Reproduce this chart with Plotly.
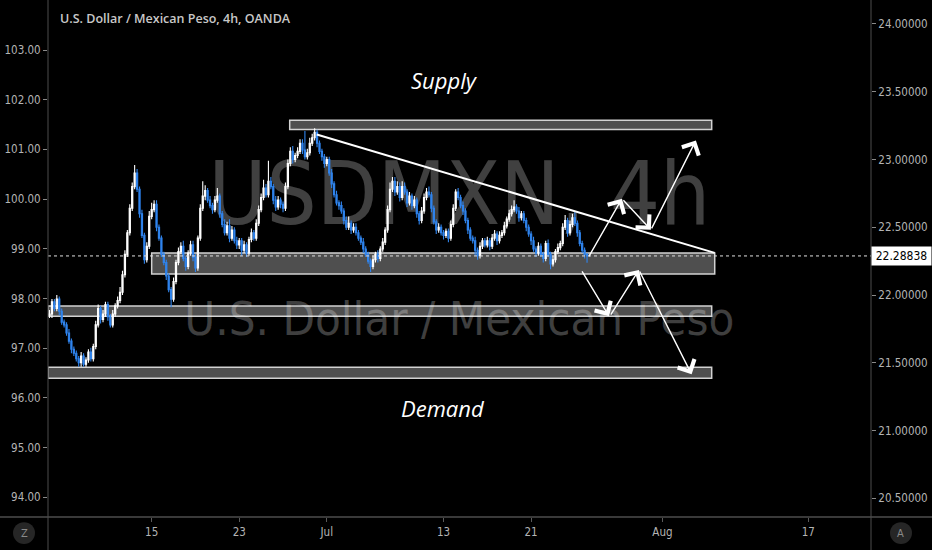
import plotly.graph_objects as go
import pandas as pd

# ---------------- data (USD/MXN, 4h candles) ----------------
trading_days = pd.bdate_range("2020-06-04", "2020-07-24")
session_hours = [0, 4, 8, 12, 16, 20]
first_open = 21.85

close_by_day = [
    [21.86, 21.95, 21.90, 21.97, 21.88, 21.80],
    [21.78, 21.72, 21.66, 21.60, 21.57, 21.53],
    [21.50, 21.55, 21.49, 21.52, 21.58, 21.53],
    [21.62, 21.78, 21.90, 21.82, 21.86, 21.93],
    [21.84, 21.78, 21.86, 21.92, 21.96, 22.02],
    [22.15, 22.30, 22.46, 22.64, 22.80, 22.90],
    [22.78, 22.60, 22.44, 22.26, 22.36, 22.58],
    [22.63, 22.67, 22.50, 22.42, 22.30, 22.24],
    [22.14, 22.04, 21.97, 22.10, 22.24, 22.32],
    [22.36, 22.27, 22.21, 22.31, 22.37, 22.28],
    [22.20, 22.42, 22.64, 22.73, 22.77, 22.70],
    [22.66, 22.63, 22.70, 22.73, 22.60, 22.52],
    [22.46, 22.51, 22.42, 22.48, 22.40, 22.37],
    [22.40, 22.33, 22.37, 22.31, 22.41, 22.46],
    [22.42, 22.53, 22.63, 22.72, 22.79, 22.74],
    [22.84, 22.80, 22.70, 22.65, 22.70, 22.67],
    [22.64, 22.80, 22.97, 23.06, 23.00, 23.03],
    [23.06, 23.12, 23.07, 23.02, 23.05, 23.12],
    [23.16, 23.20, 23.12, 23.06, 23.02, 22.97],
    [23.00, 22.90, 22.82, 22.74, 22.68, 22.66],
    [22.62, 22.55, 22.50, 22.53, 22.48, 22.50],
    [22.46, 22.42, 22.39, 22.34, 22.30, 22.25],
    [22.21, 22.26, 22.30, 22.27, 22.34, 22.39],
    [22.48, 22.63, 22.78, 22.84, 22.76, 22.80],
    [22.72, 22.80, 22.76, 22.68, 22.73, 22.66],
    [22.70, 22.60, 22.55, 22.62, 22.72, 22.76],
    [22.74, 22.64, 22.54, 22.48, 22.50, 22.46],
    [22.44, 22.47, 22.42, 22.52, 22.64, 22.76],
    [22.72, 22.66, 22.62, 22.55, 22.48, 22.42],
    [22.40, 22.33, 22.29, 22.36, 22.40, 22.37],
    [22.40, 22.36, 22.42, 22.45, 22.40, 22.44],
    [22.46, 22.51, 22.56, 22.60, 22.63, 22.65],
    [22.62, 22.57, 22.60, 22.55, 22.50, 22.45],
    [22.40, 22.34, 22.31, 22.36, 22.30, 22.27],
    [22.38, 22.30, 22.23, 22.26, 22.32, 22.35],
    [22.38, 22.50, 22.55, 22.46, 22.52, 22.57],
    [22.53, 22.46, 22.38, 22.33, 22.30, 22.28838],
]

# wick lengths in hundredths of a peso
upper_wick_by_day = [
    [3, 2, 2, 3, 2, 2], [2, 2, 3, 2, 2, 2], [2, 3, 2, 2, 2, 3], [2, 3, 3, 2, 3, 2],
    [2, 2, 3, 2, 3, 4], [3, 3, 2, 3, 3, 6], [3, 2, 3, 2, 3, 4], [5, 3, 3, 2, 2, 2],
    [2, 2, 2, 3, 2, 3], [3, 4, 2, 2, 3, 3], [2, 2, 3, 11, 4, 2], [3, 2, 3, 6, 2, 2],
    [4, 3, 5, 3, 2, 3], [2, 2, 3, 2, 2, 3], [2, 3, 3, 3, 6, 3], [15, 3, 2, 3, 3, 2],
    [2, 3, 3, 3, 4, 2], [3, 3, 3, 14, 3, 4], [3, 3, 2, 2, 2, 2], [2, 2, 3, 2, 3, 2],
    [3, 2, 3, 5, 2, 3], [3, 2, 2, 3, 2, 2], [2, 3, 2, 3, 2, 3], [2, 3, 5, 3, 3, 4],
    [3, 4, 3, 2, 3, 2], [3, 2, 2, 3, 3, 3], [4, 2, 2, 2, 3, 2], [2, 2, 2, 3, 3, 2],
    [3, 2, 3, 2, 2, 2], [2, 3, 2, 3, 2, 2], [3, 2, 3, 3, 2, 3], [2, 3, 2, 3, 3, 5],
    [2, 3, 2, 2, 2, 2], [2, 3, 2, 3, 2, 2], [2, 3, 2, 3, 2, 3], [2, 3, 4, 2, 3, 3],
    [5, 2, 2, 2, 2, 1],
]
lower_wick_by_day = [
    [2, 3, 2, 2, 3, 2], [2, 2, 2, 3, 2, 2], [3, 3, 2, 2, 2, 2], [2, 2, 2, 3, 2, 2],
    [3, 2, 2, 2, 2, 2], [2, 2, 2, 2, 2, 2], [2, 3, 2, 3, 2, 2], [2, 2, 3, 2, 2, 2],
    [3, 2, 6, 2, 2, 2], [2, 2, 3, 2, 2, 3], [3, 2, 2, 2, 3, 2], [2, 3, 2, 2, 3, 2],
    [2, 2, 3, 2, 2, 3], [3, 4, 2, 3, 2, 2], [2, 2, 2, 2, 2, 2], [2, 2, 3, 3, 2, 3],
    [3, 2, 2, 2, 3, 2], [2, 2, 3, 2, 2, 2], [2, 2, 3, 2, 3, 3], [2, 2, 3, 2, 2, 3],
    [2, 3, 2, 2, 3, 2], [2, 2, 2, 3, 2, 2], [4, 2, 2, 3, 2, 2], [2, 2, 2, 2, 3, 2],
    [3, 2, 2, 3, 2, 3], [2, 3, 3, 2, 2, 2], [2, 3, 2, 3, 2, 2], [3, 2, 3, 2, 2, 2],
    [2, 2, 3, 2, 3, 2], [2, 4, 3, 2, 2, 2], [2, 3, 2, 2, 3, 2], [2, 2, 2, 2, 2, 2],
    [2, 3, 2, 2, 3, 2], [3, 2, 3, 2, 2, 3], [2, 2, 4, 2, 2, 2], [2, 2, 2, 3, 2, 2],
    [2, 3, 2, 2, 3, 5],
]

last_price = 22.28838

# zones (price levels) and projected paths
supply_zone = (23.222, 23.289)
range_zone = (22.156, 22.311)
mid_demand_zone = (21.844, 21.919)
demand_zone = (21.385, 21.467)

trend_start = ("2020-06-30 07:30", 23.185)
trend_end = ("2020-08-06 14:00", 22.311)

bull_path = [("2020-07-24 21:40", 22.274), ("2020-07-29 05:30", 22.711),
             ("2020-07-31 05:00", 22.481), ("2020-08-05 07:00", 23.141)]
bear_path = [("2020-07-24 10:20", 22.185), ("2020-07-28 08:10", 21.844),
             ("2020-07-28 09:30", 21.844), ("2020-07-30 09:20", 22.185),
             ("2020-08-05 00:00", 21.415)]

x_tick_vals = ["2020-06-15", "2020-06-23", "2020-07-01", "2020-07-13",
               "2020-07-21", "2020-08-03", "2020-08-17"]
x_tick_text = ["15", "23", "Jul", "13", "21", "Aug", "17"]
left_ticks = [94, 95, 96, 97, 98, 99, 100, 101, 102, 103]
right_ticks = [20.5, 21.0, 21.5, 22.0, 22.5, 23.0, 23.5, 24.0]

# ---------------- build OHLC ----------------
times, closes, ups, lows_w = [], [], [], []
for day, cl, uw, lw in zip(trading_days, close_by_day, upper_wick_by_day, lower_wick_by_day):
    for h, c, u, l in zip(session_hours, cl, uw, lw):
        times.append(day + pd.Timedelta(hours=h))
        closes.append(c)
        ups.append(u)
        lows_w.append(l)
opens = [first_open] + closes[:-1]
highs = [max(o, c) + u / 100 for o, c, u in zip(opens, closes, ups)]
lows = [min(o, c) - l / 100 for o, c, l in zip(opens, closes, lows_w)]

BLUE = "#2f84ee"
NARROW = "DejaVu Sans Condensed, Liberation Sans Narrow, Arial Narrow, sans-serif"
WM = "rgba(255,255,255,0.25)"

fig = go.Figure()

# watermark (on the main subplot, so it sits behind the candles)
fig.add_trace(go.Scatter(
    x=["2020-07-14 02:00"], y=[99.95], mode="text", text=["USDMXN, 4h"],
    textfont=dict(size=88, color=WM, family=NARROW), hoverinfo="skip",
    showlegend=False, xaxis="x", yaxis="y"))
fig.add_trace(go.Scatter(
    x=["2020-07-14 02:00"], y=[97.50], mode="text", text=["U.S. Dollar / Mexican Peso"],
    textfont=dict(size=47, color=WM, family=NARROW), hoverinfo="skip",
    showlegend=False, xaxis="x", yaxis="y"))

fig.add_trace(go.Candlestick(
    x=times, open=opens, high=highs, low=lows, close=closes,
    increasing=dict(line=dict(color="#ffffff", width=1.1), fillcolor="#ffffff"),
    decreasing=dict(line=dict(color=BLUE, width=1.1), fillcolor=BLUE),
    xaxis="x", yaxis="y2", showlegend=False, hoverinfo="skip"))

shapes = []
left_edge = "2020-06-03 21:30"
zone_style = dict(type="rect", xref="x", yref="y2", layer="below",
                  fillcolor="rgba(128,128,128,0.62)", line=dict(color="#d2d2d2", width=1.5))
shapes.append(dict(zone_style, x0="2020-06-26 11:00", x1="2020-08-06 09:00",
                   y0=supply_zone[0], y1=supply_zone[1]))
shapes.append(dict(zone_style, x0="2020-06-15 00:00", x1="2020-08-06 14:00",
                   y0=range_zone[0], y1=range_zone[1]))
shapes.append(dict(zone_style, x0=left_edge, x1="2020-08-06 09:00",
                   y0=mid_demand_zone[0], y1=mid_demand_zone[1]))
shapes.append(dict(zone_style, x0=left_edge, x1="2020-08-06 09:00",
                   y0=demand_zone[0], y1=demand_zone[1]))
# last price dotted line
shapes.append(dict(type="line", xref="paper", yref="y2", x0=0, x1=1,
                   y0=last_price, y1=last_price, line=dict(color="#e0e0e0", width=1, dash="dot")))
# trendline
shapes.append(dict(type="line", xref="x", yref="y2", x0=trend_start[0], y0=trend_start[1],
                   x1=trend_end[0], y1=trend_end[1], line=dict(color="#ffffff", width=2)))
# frame lines
FRAME = "#4d4d4d"
shapes.append(dict(type="line", xref="paper", yref="paper", x0=0, x1=0, y0=-0.07, y1=1,
                   line=dict(color=FRAME, width=1)))
shapes.append(dict(type="line", xref="paper", yref="paper", x0=1, x1=1, y0=-0.07, y1=1,
                   line=dict(color=FRAME, width=1)))
shapes.append(dict(type="line", xref="paper", yref="paper", x0=-0.06, x1=1.08, y0=0, y1=0,
                   line=dict(color=FRAME, width=1.5)))
# Z / A buttons
shapes.append(dict(type="circle", xref="paper", yref="paper", x0=-0.0425, x1=-0.0158,
                   y0=-0.052, y1=-0.010, fillcolor="#262626", line=dict(width=0)))
shapes.append(dict(type="circle", xref="paper", yref="paper", x0=1.0231, x1=1.0498,
                   y0=-0.052, y1=-0.010, fillcolor="#262626", line=dict(width=0)))

annotations = []
annotations.append(dict(text="U.S. Dollar / Mexican Peso, 4h, OANDA", xref="paper", yref="paper",
                        x=0.012, y=0.965, xanchor="left", yanchor="middle", showarrow=False,
                        font=dict(family="Open Sans, sans-serif", size=12.5, color="#c8c8c8",
                                  weight=600)))
annotations.append(dict(text="<i>Supply</i>", xref="paper", yref="paper", x=0.482, y=0.845,
                        xanchor="center", yanchor="middle", showarrow=False,
                        font=dict(family="Open Sans, sans-serif", size=22, color="#ffffff")))
annotations.append(dict(text="<i>Demand</i>", xref="paper", yref="paper", x=0.480, y=0.211,
                        xanchor="center", yanchor="middle", showarrow=False,
                        font=dict(family="Open Sans, sans-serif", size=22, color="#ffffff")))
annotations.append(dict(text="22.28838", xref="paper", yref="y2", x=1.0, y=last_price,
                        xanchor="left", yanchor="middle", showarrow=False, bgcolor="#ffffff",
                        width=57, height=16, borderpad=1,
                        font=dict(family=NARROW, size=12, color="#000000")))
annotations.append(dict(text="Z", xref="paper", yref="paper", x=-0.029, y=-0.031,
                        xanchor="center", yanchor="middle", showarrow=False,
                        font=dict(family=NARROW, size=11, color="#8a8a8a")))
annotations.append(dict(text="A", xref="paper", yref="paper", x=1.0364, y=-0.031,
                        xanchor="center", yanchor="middle", showarrow=False,
                        font=dict(family=NARROW, size=11, color="#8a8a8a")))


def add_path(points, heads):
    for (p0, p1), head in zip(zip(points[:-1], points[1:]), heads):
        annotations.append(dict(
            x=p1[0], y=p1[1], ax=p0[0], ay=p0[1], xref="x", yref="y2", axref="x", ayref="y2",
            text="", showarrow=True, arrowhead=4 if head else 0, arrowsize=2.6,
            arrowwidth=1.4, arrowcolor="#ffffff", standoff=0, startstandoff=0))


add_path(bull_path, [True, True, True])
add_path(bear_path, [True, False, True, True])

tickfont = dict(family=NARROW, size=11.5, color="#b4b4b4")
fig.update_layout(
    width=932, height=550,
    margin=dict(l=48, r=61, t=0, b=33, autoexpand=False),
    paper_bgcolor="#000000", plot_bgcolor="#000000",
    showlegend=False,
    shapes=shapes, annotations=annotations,
    xaxis=dict(type="date", range=[left_edge, "2020-08-21 07:00"],
               rangebreaks=[dict(bounds=["sat", "mon"])],
               rangeslider=dict(visible=False), automargin=False,
               tickmode="array", tickvals=x_tick_vals, ticktext=x_tick_text,
               showgrid=False, zeroline=False, showline=False,
               ticks="outside", ticklen=4, tickcolor="#5a5a5a", tickfont=tickfont),
    yaxis=dict(range=[93.604, 104.006], side="left", tickmode="array", tickvals=left_ticks,
               tickformat=".2f", showgrid=False, zeroline=False, showline=False, automargin=False,
               ticks="outside", ticklen=4, tickcolor="#8a8a8a", tickfont=tickfont),
    yaxis2=dict(range=[20.362, 24.177], side="right", overlaying="y", tickmode="array",
                tickvals=right_ticks, tickformat=".5f", showgrid=False, zeroline=False,
                showline=False, automargin=False, ticks="outside", ticklen=4,
                tickcolor="#8a8a8a", tickfont=tickfont),
)

fig.write_html("out.html", config={"displayModeBar": False, "staticPlot": True},
               post_script="document.body.style.margin='0px';document.body.style.overflow='hidden';")
